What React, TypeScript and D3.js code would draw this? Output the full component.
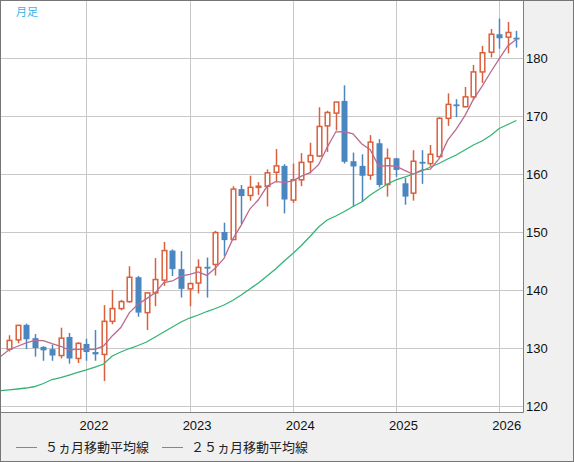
import React, { useEffect, useRef } from "react";
import * as d3 from "d3";

// monthly candles, first candle = April 2021
const startMonth = "2021-04";

const opens = [
  129.8, 131.4, 134.0, 131.7, 130.2, 129.8, 128.7, 131.9, 128.2, 130.7,
  129.3, 128.9, 134.6, 136.8, 138.0, 142.2, 136.1, 139.5, 141.7, 146.8,
  143.6, 140.2, 141.2, 144.0, 144.4, 150.0, 148.7, 157.4, 156.3, 157.7,
  157.9, 160.3, 161.4, 155.5, 159.0, 162.1, 163.1, 168.3, 170.5, 172.6,
  162.2, 161.4, 159.8, 165.3, 158.2, 162.7, 158.4, 156.7, 162.1, 161.8,
  163.0, 169.6, 172.0, 171.6, 173.3, 177.6, 181.0, 184.1, 183.6, 183.5,
];
const highs = [
  132.2, 134.0, 134.2, 132.4, 130.3, 130.6, 133.5, 132.6, 131.0, 131.6,
  133.1, 137.4, 140.0, 138.3, 144.1, 142.4, 139.6, 145.5, 148.3, 147.0,
  146.7, 141.3, 145.3, 145.6, 150.2, 151.6, 157.9, 158.1, 159.7, 158.6,
  160.8, 164.3, 161.7, 161.8, 163.6, 165.4, 171.5, 170.9, 172.4, 175.3,
  163.7, 163.4, 166.7, 166.0, 164.4, 162.8, 159.3, 164.1, 164.1, 165.0,
  169.8, 173.9, 172.9, 175.0, 178.8, 182.1, 185.0, 186.8, 186.2, 184.7,
];
const lows = [
  129.4, 130.8, 129.8, 128.5, 127.8, 127.8, 128.2, 127.3, 127.4, 127.8,
  127.8, 124.3, 134.1, 136.5, 137.8, 135.4, 133.1, 137.2, 140.7, 142.4,
  138.7, 137.2, 139.4, 138.7, 142.5, 145.9, 148.6, 151.4, 155.4, 156.4,
  154.4, 158.7, 153.2, 155.0, 157.9, 160.1, 162.9, 163.8, 167.5, 161.8,
  154.4, 155.2, 159.0, 157.7, 156.1, 159.5, 154.7, 155.4, 158.3, 161.3,
  162.9, 168.3, 169.8, 171.5, 172.8, 175.7, 180.1, 181.6, 180.8, 181.8,
];
const closes = [
  131.3, 133.9, 131.5, 130.0, 129.6, 128.7, 131.7, 128.2, 130.8, 129.3,
  128.9, 134.6, 136.8, 138.0, 142.2, 136.1, 139.5, 141.8, 146.8, 143.6,
  140.2, 141.1, 143.9, 143.8, 149.9, 148.6, 157.4, 156.2, 157.7, 157.9,
  160.2, 161.4, 155.6, 159.0, 162.0, 163.2, 168.2, 170.6, 172.4, 162.1,
  161.3, 159.7, 165.5, 158.1, 162.7, 160.7, 156.1, 162.2, 161.8, 163.4,
  169.6, 172.0, 171.8, 173.3, 177.6, 180.9, 184.1, 183.4, 184.4, 183.3,
];

// moving averages, first value belongs to the month before the first candle
const ma5 = [
  128.5, 129.7, 130.3, 130.9, 131.3, 131.26, 130.74, 130.3, 129.64, 129.8,
  129.74, 129.78, 130.36, 132.08, 133.52, 136.1, 137.54, 138.52, 139.52, 141.28,
  141.56, 142.38, 142.7, 143.12, 142.52, 143.78, 145.46, 148.72, 151.18, 153.96,
  155.56, 157.88, 158.68, 158.56, 158.82, 159.64, 160.24, 161.6, 164.6, 167.28,
  167.3, 166.92, 165.22, 164.2, 161.34, 161.46, 161.34, 160.62, 159.96, 160.7,
  160.84, 162.62, 165.8, 167.72, 170.02, 172.86, 175.12, 177.54, 179.86, 182.08,
  183.22,
];
const ma25 = [
  122.64, 122.79, 122.93, 123.1, 123.36, 123.88, 124.57, 124.91, 125.34, 125.78,
  126.21, 126.72, 127.24, 128.62, 129.31, 129.91, 130.43, 131.03, 131.9, 132.76,
  133.62, 134.48, 135.17, 135.69, 136.29, 136.81, 137.41, 138.19, 139.14, 140.17,
  141.21, 142.41, 143.62, 145.0, 146.29, 147.67, 149.22, 150.86, 152.07, 152.76,
  153.53, 154.4, 155.17, 156.38, 157.33, 158.28, 158.97, 159.48, 160.0, 160.52,
  161.21, 161.81, 162.59, 163.28, 164.14, 165.0, 165.69, 166.64, 167.84, 168.53,
  169.22,
];

const yTicks = [120, 130, 140, 150, 160, 170, 180];
const periodLabel = "月足";
const legendLabels = ["５ヵ月移動平均線", "２５ヵ月移動平均線"];

const UP = "#d9603d";
const DOWN = "#4a87c0";
const MA5_COLOR = "#bb6a90";
const MA25_COLOR = "#34b474";

const App: React.FC = () => {
  const svgRef = useRef<SVGSVGElement>(null);

  useEffect(() => {
    if (!svgRef.current) return;

    const width = 574;
    const height = 462;
    const plot = { left: 1, top: 1, right: 523, bottom: 412 };

    const svg = d3
      .select(svgRef.current)
      .attr("width", width)
      .attr("height", height);

    svg.selectAll("*").remove();

    // month of every candle
    const start = d3.timeParse("%Y-%m")(startMonth) as Date;
    const months = closes.map((_, i) => d3.timeMonth.offset(start, i));

    const xScale = d3
      .scaleLinear()
      .domain([0, closes.length - 1])
      .range([9, 516.4]);

    const yScale = d3.scaleLinear().domain([120, 190]).range([406, 0]);

    // frame + grey background
    svg
      .append("rect")
      .attr("x", 0.5)
      .attr("y", 0.5)
      .attr("width", width - 1)
      .attr("height", height - 1)
      .attr("fill", "#f0f0f0")
      .attr("stroke", "#767676");

    svg
      .append("rect")
      .attr("x", plot.left)
      .attr("y", plot.top)
      .attr("width", plot.right - plot.left)
      .attr("height", plot.bottom - plot.top)
      .attr("fill", "#fff");

    svg
      .append("defs")
      .append("clipPath")
      .attr("id", "plot-clip")
      .append("rect")
      .attr("x", plot.left)
      .attr("y", plot.top)
      .attr("width", plot.right - plot.left)
      .attr("height", plot.bottom - plot.top);

    // grid
    const grid = svg.append("g").attr("stroke", "#c8c8c8").attr("stroke-width", 1);
    yTicks.forEach((t) => {
      const y = Math.round(yScale(t)) + 0.5;
      grid
        .append("line")
        .attr("x1", plot.left)
        .attr("x2", plot.right)
        .attr("y1", y)
        .attr("y2", y);
    });

    const yearIdx = months
      .map((m, i) => ({ m, i }))
      .filter((d) => d.m.getMonth() === 0);

    yearIdx.forEach((d) => {
      const x = Math.round(xScale(d.i)) + 0.5;
      grid
        .append("line")
        .attr("x1", x)
        .attr("x2", x)
        .attr("y1", plot.top)
        .attr("y2", plot.bottom);
    });

    // plot border
    svg
      .append("path")
      .attr("d", `M${plot.right + 0.5},${plot.top} V${plot.bottom + 0.5} H${plot.left}`)
      .attr("fill", "none")
      .attr("stroke", "#808080");

    // candles
    const candles = svg.append("g").attr("clip-path", "url(#plot-clip)");
    closes.forEach((c, i) => {
      const o = opens[i];
      const cx = Math.round(xScale(i)) + 0.5;
      const up = c >= o;
      const color = up ? UP : DOWN;

      candles
        .append("line")
        .attr("x1", cx)
        .attr("x2", cx)
        .attr("y1", yScale(highs[i]))
        .attr("y2", yScale(lows[i]))
        .attr("stroke", color)
        .attr("stroke-width", 1.5);

      const top = yScale(Math.max(o, c));
      const bot = yScale(Math.min(o, c));
      if (up) {
        candles
          .append("rect")
          .attr("x", cx - 2.3)
          .attr("width", 4.6)
          .attr("y", top)
          .attr("height", Math.max(bot - top, 0.6))
          .attr("fill", "#fff")
          .attr("stroke", color)
          .attr("stroke-width", 1.5);
      } else {
        candles
          .append("rect")
          .attr("x", cx - 3)
          .attr("width", 6)
          .attr("y", top)
          .attr("height", Math.max(bot - top, 1.8))
          .attr("fill", color);
      }
    });

    // moving averages
    const line = d3
      .line<number>()
      .x((_, i) => xScale(i - 1))
      .y((d) => yScale(d));

    const maG = svg.append("g").attr("clip-path", "url(#plot-clip)");
    maG
      .append("path")
      .datum(ma25)
      .attr("fill", "none")
      .attr("stroke", MA25_COLOR)
      .attr("stroke-width", 1.3)
      .attr("d", line);
    maG
      .append("path")
      .datum(ma5)
      .attr("fill", "none")
      .attr("stroke", MA5_COLOR)
      .attr("stroke-width", 1.3)
      .attr("d", line);

    // y labels
    svg
      .append("g")
      .selectAll("text")
      .data(yTicks)
      .join("text")
      .attr("x", plot.right + 3)
      .attr("y", (d) => yScale(d))
      .attr("dy", "0.36em")
      .attr("font-family", "'Liberation Sans', Arial, sans-serif")
      .attr("font-size", 13)
      .attr("fill", "#111")
      .text((d) => d);

    // x labels (years)
    svg
      .append("g")
      .selectAll("text")
      .data(yearIdx)
      .join("text")
      .attr("x", (d) => xScale(d.i) + 7.5)
      .attr("y", 430)
      .attr("text-anchor", "middle")
      .attr("font-family", "'Liberation Sans', Arial, sans-serif")
      .attr("font-size", 13)
      .attr("fill", "#111")
      .text((d) => d3.timeFormat("%Y")(d.m));

    // period label
    svg
      .append("text")
      .attr("x", 16)
      .attr("y", 16)
      .attr("font-family", "'Noto Sans CJK JP', sans-serif")
      .attr("font-size", 11)
      .attr("fill", "#34b6ec")
      .text(periodLabel);

    // legend
    const legend = [
      { label: legendLabels[0], color: MA5_COLOR, x: 16 },
      { label: legendLabels[1], color: MA25_COLOR, x: 162 },
    ];
    legend.forEach((d) => {
      svg
        .append("line")
        .attr("x1", d.x)
        .attr("x2", d.x + 21)
        .attr("y1", 447.5)
        .attr("y2", 447.5)
        .attr("stroke", d.color)
        .attr("stroke-width", 1);
      svg
        .append("text")
        .attr("x", d.x + 29)
        .attr("y", 447.5)
        .attr("dy", "0.36em")
        .attr("font-family", "'Noto Sans CJK JP', sans-serif")
        .attr("font-size", 13)
        .attr("fill", "#222")
        .text(d.label);
    });
  }, []);

  return (
    <div style={{ position: "absolute", left: 0, top: 0 }}>
      <svg ref={svgRef} style={{ display: "block" }}></svg>
    </div>
  );
};

export default App;
